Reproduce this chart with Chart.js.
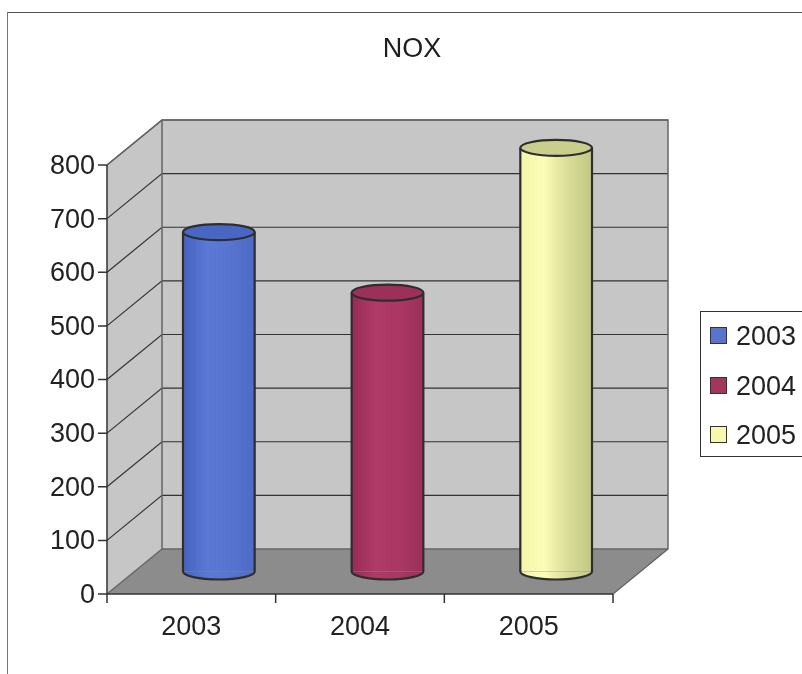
<!DOCTYPE html>
<html>
<head>
<meta charset="utf-8">
<script src="https://cdn.jsdelivr.net/npm/chart.js@4/dist/chart.umd.min.js"></script>
<style>
  body { margin: 0; background: #fff; }
  #wrap { position: relative; width: 802px; height: 674px; overflow: hidden; }
  #frame { position: absolute; left: 7px; top: 12px; width: 820px; height: 700px;
           border-top: 1px solid #555; border-left: 1px solid #777; }
  #legend { position: absolute; left: 700px; top: 311px; width: 120px; height: 146px;
            border: 1px solid #333; box-sizing: border-box;
            font: 27px "Liberation Sans", Arial, sans-serif; color: #222; }
  #legend div { position: absolute; left: 9px; height: 30px; line-height: 30px; }
  #legend span { display: inline-block; width: 15px; height: 15px; border: 1.5px solid #333;
                 margin-right: 9px; vertical-align: 1px; }
</style>
</head>
<body>
<div id="wrap">
  <div id="frame"></div>
  <canvas id="chart" width="802" height="674"></canvas>
  <div id="legend"></div>
</div>
<script>
// ── Data ────────────────────────────────────────────────────
const categories = ["2003", "2004", "2005"];
const noxValues = [633, 520, 790];
const yTicks = [0, 100, 200, 300, 400, 500, 600, 700, 800];

// body gradient stops (left → right) and the top cap colour for each year
const bodyColors = [
  ["#4662c2", "#5a78d4", "#5674d0", "#4d6ac6"],
  ["#962c56", "#b03a68", "#ab3764", "#9a2f5a"],
  ["#f4f6aa", "#fbfcb6", "#d8dc96", "#c2c782"],
];
const capColors = ["#4a66c4", "#9c3058", "#c9ce8c"];
const legendColors = ["#5a74cc", "#a3365e", "#f6f8b0"];

// depth offset between the middle plane (chart area) and the back wall
const DX = 27.5, DY = -22.5;

// ── 3D walls ────────────────────────────────────────────────
const wallsPlugin = {
  id: "walls",
  beforeDatasetsDraw(chart) {
    const { ctx, chartArea: a, scales } = chart;
    const y = scales.y;
    const top = y.getPixelForValue(800), bot = y.getPixelForValue(0);
    const fl = a.left - DX, fr = a.right - DX;      // front plane x
    const bl = a.left + DX, br = a.right + DX;      // back plane x
    ctx.save();
    ctx.lineWidth = 1.3;
    ctx.strokeStyle = "#5a5a5a";

    // back wall
    ctx.fillStyle = "#c6c6c6";
    ctx.fillRect(bl, top + DY, br - bl, bot - top);
    // left wall
    ctx.beginPath();
    ctx.moveTo(fl, top - DY); ctx.lineTo(bl, top + DY);
    ctx.lineTo(bl, bot + DY); ctx.lineTo(fl, bot - DY); ctx.closePath();
    ctx.fill();
    // floor
    ctx.fillStyle = "#8c8c8c";
    ctx.beginPath();
    ctx.moveTo(fl, bot - DY); ctx.lineTo(bl, bot + DY);
    ctx.lineTo(br, bot + DY); ctx.lineTo(fr, bot - DY); ctx.closePath();
    ctx.fill();

    // gridlines on back and left walls
    ctx.strokeStyle = "#333";
    ctx.lineWidth = 1.2;
    yTicks.forEach((v) => {
      if (v === 0) return;
      const py = y.getPixelForValue(v);
      ctx.beginPath();
      ctx.moveTo(fl, py - DY); ctx.lineTo(bl, py + DY); ctx.lineTo(br, py + DY);
      ctx.stroke();
    });

    // wall edges
    ctx.strokeStyle = "#666";
    ctx.lineWidth = 1.5;
    ctx.beginPath();
    ctx.moveTo(fl, top - DY); ctx.lineTo(bl, top + DY); ctx.lineTo(br, top + DY);
    ctx.lineTo(br, bot + DY); ctx.lineTo(fr, bot - DY);
    ctx.moveTo(bl, top + DY); ctx.lineTo(bl, bot + DY); ctx.lineTo(br, bot + DY);
    ctx.moveTo(fl, bot - DY); ctx.lineTo(bl, bot + DY);
    ctx.stroke();

    // front axes with tick marks
    ctx.strokeStyle = "#333";
    ctx.beginPath();
    ctx.moveTo(fl, top - DY); ctx.lineTo(fl, bot - DY); ctx.lineTo(fr, bot - DY);
    yTicks.forEach((v) => {
      const py = y.getPixelForValue(v) - DY;
      ctx.moveTo(fl - 9, py); ctx.lineTo(fl, py);
    });
    const step = (a.right - a.left) / categories.length;
    for (let i = 0; i <= categories.length; i++) {
      const px = fl + step * i;
      ctx.moveTo(px, bot - DY); ctx.lineTo(px, bot - DY + 9);
    }
    ctx.stroke();
    ctx.restore();
  },
  afterDatasetsDraw(chart) {
    const { ctx } = chart;
    const meta = chart.getDatasetMeta(0);
    ctx.save();
    meta.data.forEach((bar, i) => {
      const { x, y, base, width } = bar.getProps(["x", "y", "base", "width"], true);
      const rx = width / 2, ry = 8;
      const g = ctx.createLinearGradient(x - rx, 0, x + rx, 0);
      bodyColors[i].forEach((c, k) => g.addColorStop(k / 3, c));
      // bottom half ellipse
      ctx.fillStyle = g;
      ctx.beginPath();
      ctx.ellipse(x, base, rx, ry, 0, 0, Math.PI);
      ctx.fill();
      // outline of the body
      ctx.strokeStyle = "#2e2e2e";
      ctx.lineWidth = 2.2;
      ctx.beginPath();
      ctx.moveTo(x - rx, y);
      ctx.lineTo(x - rx, base);
      ctx.ellipse(x, base, rx, ry, 0, Math.PI, 0, true);
      ctx.lineTo(x + rx, y);
      ctx.stroke();
      // top cap
      ctx.fillStyle = capColors[i];
      ctx.beginPath();
      ctx.ellipse(x, y, rx, ry, 0, 0, Math.PI * 2);
      ctx.fill();
      ctx.stroke();
    });
    ctx.restore();
  },
};

// ── Chart ───────────────────────────────────────────────────
const font = { family: '"Liberation Sans", Arial, sans-serif', size: 27 };

new Chart(document.getElementById("chart"), {
  type: "bar",
  data: {
    labels: categories,
    datasets: [
      {
        label: "NOX",
        data: noxValues,
        backgroundColor: (c) => {
          const ch = c.chart;
          if (!ch.chartArea) return bodyColors[c.dataIndex][1];
          const x = ch.scales.x.getPixelForValue(c.dataIndex);
          const w = ((ch.chartArea.right - ch.chartArea.left) / categories.length) * 0.425;
          const g = ch.ctx.createLinearGradient(x - w / 2, 0, x + w / 2, 0);
          bodyColors[c.dataIndex].forEach((col, k) => g.addColorStop(k / 3, col));
          return g;
        },
        borderWidth: 0,
        categoryPercentage: 1,
        barPercentage: 0.425,
      },
    ],
  },
  plugins: [wallsPlugin],
  options: {
    responsive: false,
    animation: false,
    layout: { padding: { left: 22, right: 0, top: 0, bottom: 0 }, autoPadding: false },
    plugins: {
      legend: { display: false },
      tooltip: { enabled: false },
      title: {
        display: true,
        text: "NOX",
        color: "#1e1e1e",
        font: { family: font.family, size: 27, weight: "normal" },
        padding: { top: 33, bottom: 77.1 },
      },
    },
    scales: {
      x: {
        grid: { display: false, drawTicks: false },
        border: { display: false },
        ticks: { font, color: "#222", padding: 40, labelOffset: -DX },
        afterFit: (s) => { s.height = 674 - 571.5; },
      },
      y: {
        min: 0,
        max: 800,
        grid: { display: false, drawTicks: false },
        border: { display: false },
        ticks: { stepSize: 100, font, color: "#222", padding: 39.5, labelOffset: -DY + 1.5 },
        afterFit: (s) => { s.width = 134.5 - 22; },
      },
      // empty right-hand axis that keeps room for the legend
      side: {
        type: "linear",
        position: "right",
        grid: { display: false, drawTicks: false },
        border: { display: false },
        ticks: { display: false },
        afterFit: (s) => { s.width = 161.5; },
      },
    },
  },
});

// ── Legend ──────────────────────────────────────────────────
document.getElementById("legend").innerHTML = categories
  .map((c, i) => `<div style="top:${9 + i * 49.5}px"><span style="background:${legendColors[i]}"></span>${c}</div>`)
  .join("");
</script>
</body>
</html>
